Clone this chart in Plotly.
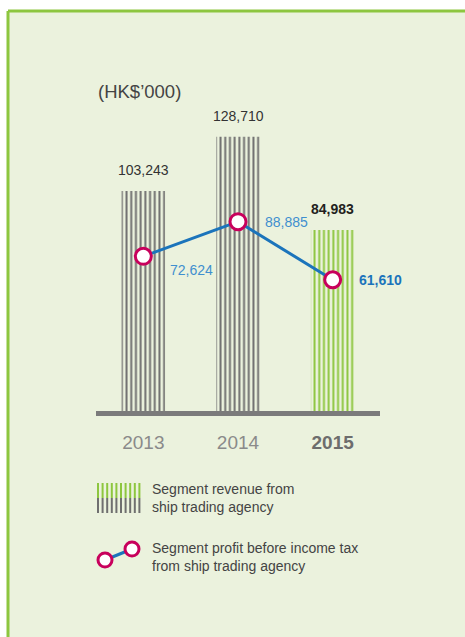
import plotly.graph_objects as go

# ---- data ----
years = ["2013", "2014", "2015"]
revenue = [103243, 128710, 84983]
profit = [72624, 88885, 61610]
revenue_labels = ["103,243", "128,710", "84,983"]
profit_labels = ["72,624", "88,885", "61,610"]

# ---- layout geometry ----
FW, FH = 465, 637
L, R, T, B = 96, 85, 100, 226
PW = FW - L - R
PH = FH - T - B
YMAX = 146000

def px(x):
    return (x - L) / PW

def py(y):
    return (FH - B - y) / PH

GRAY = "#6f6f6f"
AXGRAY = "#7b7b7b"
GREEN = "#8dc63f"
BLUE = "#1b74bb"
LBLUE = "#3f8fcf"
MAG = "#c8005c"
BG = "#ebf2dd"
FONT = "Liberation Sans, Arial, sans-serif"

fig = go.Figure()

fig.add_trace(go.Bar(
    x=years, y=revenue, width=0.46,
    marker=dict(
        color="rgba(0,0,0,0)",
        line=dict(width=0),
        pattern=dict(shape="|", size=4.7, solidity=0.42,
                     fgcolor=[GRAY, GRAY, GREEN], bgcolor="rgba(0,0,0,0)",
                     fgopacity=1, fillmode="overlay"),
    ),
    hoverinfo="skip", showlegend=False,
))

fig.add_trace(go.Scatter(
    x=years, y=profit, mode="lines+markers",
    line=dict(color=BLUE, width=3),
    marker=dict(size=16, color="white", line=dict(color=MAG, width=3)),
    hoverinfo="skip", showlegend=False,
))

annotations = []
n = len(years)
for i, (v, lab) in enumerate(zip(revenue, revenue_labels)):
    bold = i == n - 1
    annotations.append(dict(
        x=i, y=v, xref="x", yref="y", yanchor="bottom", yshift=11,
        text=f"<b>{lab}</b>" if bold else lab, showarrow=False,
        font=dict(size=14, color="#231f20" if bold else "#333333", family=FONT),
    ))
for i, (v, lab) in enumerate(zip(profit, profit_labels)):
    bold = i == n - 1
    annotations.append(dict(
        x=i, y=v, xref="x", yref="y", xshift=48, yshift=-14 if i == 0 else 0,
        text=f"<b>{lab}</b>" if bold else lab, showarrow=False,
        font=dict(size=14, color=BLUE if bold else LBLUE, family=FONT),
    ))

# unit label
annotations.append(dict(x=px(96), y=py(91), xref="paper", yref="paper",
                        xanchor="left", yanchor="middle", text="(HK$\u2019000)",
                        showarrow=False, font=dict(size=18.5, color="#444444", family=FONT)))

# legend texts
leg_font = dict(size=14, color="#444444", family=FONT)
for txt, yy in [("Segment revenue from<br>ship trading agency", 498),
                ("Segment profit before income tax<br>from ship trading agency", 557)]:
    annotations.append(dict(x=px(150), y=py(yy), xref="paper", yref="paper",
                            xanchor="left", yanchor="middle", align="left", text=txt,
                            showarrow=False, font=leg_font))

shapes = []
# background panel with green frame (top and left)
shapes.append(dict(type="rect", xref="paper", yref="paper", layer="below",
                   x0=px(8), x1=px(475), y0=py(11), y1=py(650),
                   fillcolor=BG, line=dict(width=0)))
shapes.append(dict(type="line", xref="paper", yref="paper", layer="below",
                   x0=px(8), x1=px(475), y0=py(11), y1=py(11),
                   line=dict(color=GREEN, width=3)))
shapes.append(dict(type="line", xref="paper", yref="paper", layer="below",
                   x0=px(8), x1=px(8), y0=py(11), y1=py(650),
                   line=dict(color=GREEN, width=3)))

# legend icon 1: striped block (green top, gray bottom)
for k in range(10):
    xx = 98 + k * 4.6
    shapes.append(dict(type="line", xref="paper", yref="paper",
                       x0=px(xx), x1=px(xx), y0=py(483), y1=py(498),
                       line=dict(color=GREEN, width=2)))
    shapes.append(dict(type="line", xref="paper", yref="paper",
                       x0=px(xx), x1=px(xx), y0=py(498), y1=py(513),
                       line=dict(color=GRAY, width=2)))

# legend icon 2: line with two markers
shapes.append(dict(type="line", xref="paper", yref="paper",
                   x0=px(105), x1=px(132), y0=py(560), y1=py(549),
                   line=dict(color=BLUE, width=3)))
for cx, cy in [(105, 560), (132, 549)]:
    shapes.append(dict(type="circle", xref="paper", yref="paper",
                       x0=px(cx - 7), x1=px(cx + 7), y0=py(cy + 7), y1=py(cy - 7),
                       fillcolor="white", line=dict(color=MAG, width=3)))

ticktext = [f'<span style="color:#8a8a8a">{y}</span>' for y in years[:-1]] + \
           [f'<b><span style="color:#6d6d6d">{years[-1]}</span></b>']

fig.update_layout(
    width=FW, height=FH,
    margin=dict(l=L, r=R, t=T, b=B, pad=0),
    paper_bgcolor="white", plot_bgcolor="rgba(0,0,0,0)",
    font=dict(family=FONT),
    xaxis=dict(type="category", range=[-0.5, 2.5], showgrid=False, zeroline=False,
               showline=True, linewidth=5, linecolor=AXGRAY,
               tickvals=years, ticktext=ticktext, ticks="",
               tickfont=dict(size=19, color="#8a8a8a", family=FONT),
               ticklabelstandoff=10),
    yaxis=dict(range=[0, YMAX], showgrid=False, zeroline=False, showline=False,
               showticklabels=False, ticks=""),
    annotations=annotations, shapes=shapes,
    bargap=0.5,
)

fig.write_html("out.html", config={"displayModeBar": False},
               post_script="document.body.style.margin='0';")
